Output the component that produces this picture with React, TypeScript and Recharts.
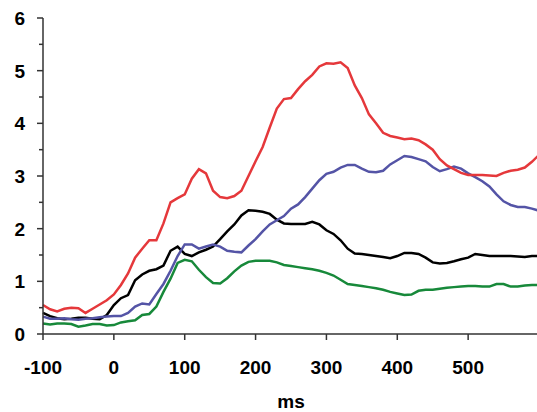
import { Line, LineChart, XAxis, YAxis } from "recharts";

const ms = [
  -100, -90, -80, -70, -60, -50, -40, -30, -20, -10, 0, 10, 20, 30, 40, 50, 60,
  70, 80, 90, 100, 110, 120, 130, 140, 150, 160, 170, 180, 190, 200, 210, 220,
  230, 240, 250, 260, 270, 280, 290, 300, 310, 320, 330, 340, 350, 360, 370,
  380, 390, 400, 410, 420, 430, 440, 450, 460, 470, 480, 490, 500, 510, 520,
  530, 540, 550, 560, 570, 580, 590, 600,
];

const red = [
  0.55, 0.47, 0.43, 0.48, 0.5, 0.49, 0.4, 0.48, 0.56, 0.64, 0.75, 0.93, 1.15,
  1.45, 1.62, 1.78, 1.78, 2.1, 2.5, 2.58, 2.65, 2.95, 3.13, 3.05, 2.72, 2.6,
  2.58, 2.62, 2.72, 3.0, 3.28, 3.55, 3.92, 4.28, 4.46, 4.48, 4.65, 4.8, 4.92,
  5.08, 5.14, 5.13, 5.16, 5.05, 4.72, 4.48, 4.17, 4.0, 3.82, 3.76, 3.73, 3.7,
  3.71, 3.68, 3.6, 3.5, 3.32, 3.2, 3.13, 3.06, 3.02, 3.02, 3.02, 3.01, 3.0,
  3.06, 3.1, 3.12, 3.16, 3.27, 3.4,
];

const black = [
  0.4, 0.34, 0.3, 0.28, 0.29, 0.31, 0.31, 0.29, 0.28, 0.36, 0.55, 0.68, 0.74,
  1.02, 1.13, 1.2, 1.23, 1.3, 1.58, 1.66, 1.52, 1.48, 1.55, 1.6, 1.66, 1.8,
  1.95, 2.08, 2.25, 2.35, 2.34, 2.32, 2.28, 2.17, 2.1, 2.09, 2.09, 2.09, 2.13,
  2.08, 1.97, 1.9, 1.78, 1.62, 1.53, 1.52, 1.5, 1.48, 1.46, 1.44, 1.48, 1.54,
  1.54, 1.52, 1.45, 1.36, 1.34, 1.35, 1.38, 1.42, 1.45, 1.52, 1.5, 1.48, 1.48,
  1.48, 1.48, 1.47, 1.46, 1.48, 1.48,
];

const blue = [
  0.33, 0.29, 0.29, 0.3, 0.28, 0.27, 0.29, 0.3, 0.32, 0.33, 0.34, 0.34, 0.4,
  0.52, 0.58, 0.56, 0.76, 0.95, 1.2, 1.48, 1.7, 1.7, 1.62, 1.66, 1.7, 1.66,
  1.58, 1.56, 1.55, 1.68, 1.8, 1.95, 2.08, 2.16, 2.24, 2.38, 2.46, 2.6, 2.76,
  2.92, 3.04, 3.08, 3.16, 3.21, 3.21, 3.14, 3.08, 3.07, 3.1, 3.22, 3.3, 3.38,
  3.36, 3.32, 3.28, 3.17, 3.09, 3.13, 3.18, 3.14, 3.05, 2.98, 2.9, 2.8, 2.65,
  2.52, 2.45, 2.41, 2.41, 2.38, 2.34,
];

const green = [
  0.2, 0.18, 0.2, 0.2, 0.19, 0.14, 0.16, 0.19, 0.19, 0.16, 0.17, 0.22, 0.24,
  0.26, 0.36, 0.38, 0.52, 0.8, 1.05, 1.35, 1.41, 1.38, 1.22, 1.08, 0.97, 0.96,
  1.06, 1.19, 1.3, 1.37, 1.39, 1.39, 1.39, 1.36, 1.31, 1.29, 1.27, 1.25, 1.23,
  1.2, 1.16, 1.11, 1.03, 0.95, 0.93, 0.91, 0.89, 0.87, 0.84, 0.8, 0.77, 0.74,
  0.75, 0.82, 0.84, 0.84, 0.86, 0.88, 0.89, 0.9, 0.91, 0.91, 0.9, 0.9, 0.95,
  0.95, 0.9, 0.9, 0.92, 0.93, 0.93,
];

const xTicks = [-100, 0, 100, 200, 300, 400, 500];
const yTicks = [0, 0.5, 1, 1.5, 2, 2.5, 3, 3.5, 4, 4.5, 5, 5.5, 6];

const data = ms.map((t, i) => ({
  ms: t,
  red: red[i],
  black: black[i],
  blue: blue[i],
  green: green[i],
}));

const font = "'Liberation Sans', Arial, sans-serif";
const axisColor = "#333";

function YTick(props: any) {
  const { x, y, payload } = props;
  const major = Number.isInteger(payload.value);
  return (
    <g>
      <line
        x1={x - (major ? 6 : 4)}
        x2={x}
        y1={y}
        y2={y}
        stroke={axisColor}
        strokeWidth={1.5}
      />
      {major && (
        <text
          x={x - 18}
          y={y}
          dy="0.36em"
          textAnchor="end"
          fontFamily={font}
          fontWeight="bold"
          fontSize={19}
          fill="#000"
        >
          {payload.value}
        </text>
      )}
    </g>
  );
}

function XTick(props: any) {
  const { x, y, payload } = props;
  return (
    <g>
      <line x1={x} x2={x} y1={y} y2={y + 6} stroke={axisColor} strokeWidth={1.5} />
      <text
        x={x}
        y={y + 40}
        textAnchor="middle"
        fontFamily={font}
        fontWeight="bold"
        fontSize={19}
        fill="#000"
      >
        {payload.value}
      </text>
    </g>
  );
}

export default function App() {
  return (
    <div style={{ position: "absolute", left: 0, top: 0, background: "#fff" }}>
      <LineChart
        width={537}
        height={412}
        data={data}
        margin={{ top: 18, right: -2, bottom: 0, left: 0 }}
      >
        <XAxis
          dataKey="ms"
          type="number"
          domain={[-100, 600]}
          ticks={xTicks}
          interval={0}
          height={78}
          tickSize={0}
          tickMargin={0}
          tickLine={false}
          tick={<XTick />}
          axisLine={{ stroke: axisColor, strokeWidth: 1.5 }}
          label={{
            value: "ms",
            position: "insideBottom",
            offset: 4,
            fontFamily: font,
            fontWeight: "bold",
            fontSize: 19,
            fill: "#000",
          }}
        />
        <YAxis
          type="number"
          domain={[0, 6]}
          ticks={yTicks}
          interval={0}
          width={43}
          tickSize={0}
          tickMargin={0}
          tickLine={false}
          tick={<YTick />}
          axisLine={{ stroke: axisColor, strokeWidth: 1.5 }}
        />
        <Line
          type="linear"
          dataKey="green"
          stroke="#17893a"
          strokeWidth={2.5}
          dot={false}
          isAnimationActive={false}
        />
        <Line
          type="linear"
          dataKey="black"
          stroke="#000000"
          strokeWidth={2.5}
          dot={false}
          isAnimationActive={false}
        />
        <Line
          type="linear"
          dataKey="blue"
          stroke="#5454a6"
          strokeWidth={2.5}
          dot={false}
          isAnimationActive={false}
        />
        <Line
          type="linear"
          dataKey="red"
          stroke="#e5383b"
          strokeWidth={2.5}
          dot={false}
          isAnimationActive={false}
        />
      </LineChart>
    </div>
  );
}
